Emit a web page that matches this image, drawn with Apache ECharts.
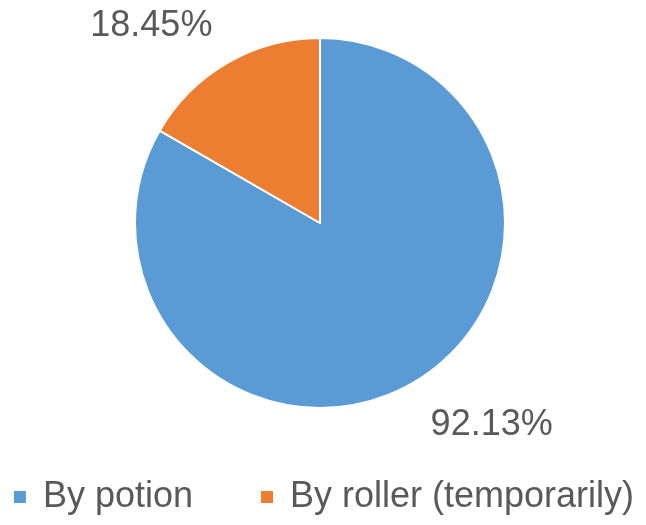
<!DOCTYPE html>
<html>
<head>
<meta charset="utf-8">
<script src="https://cdn.jsdelivr.net/npm/echarts@6/dist/echarts.min.js"></script>
<style>
html,body{margin:0;padding:0;background:#fff;}
#chart{width:646px;height:525px;}
</style>
</head>
<body>
<div id="chart"></div>
<script>
const categories = ['By potion', 'By roller (temporarily)'];
const values = [92.13, 18.45];
const colors = ['#5B9BD5', '#ED7D31'];
const lineLengths = [48, 42];

const chart = echarts.init(document.getElementById('chart'), null, {renderer: 'canvas'});
const FONT = 'Liberation Sans';
chart.setOption({
  animation: false,
  backgroundColor: '#ffffff',
  legend: {
    data: categories,
    left: 'center',
    top: 474,
    icon: 'rect',
    itemWidth: 14,
    itemHeight: 14,
    itemGap: 66,
    textStyle: {
      fontFamily: FONT,
      fontSize: 36,
      color: '#595959',
      lineHeight: 36,
      padding: [0, 0, 0, 11]
    }
  },
  series: [{
    type: 'pie',
    center: [320, 223],
    radius: 185,
    startAngle: 90,
    clockwise: true,
    avoidLabelOverlap: false,
    itemStyle: {borderColor: '#ffffff', borderWidth: 2},
    label: {
      show: true,
      position: 'outside',
      formatter: p => p.value.toFixed(2) + '%',
      fontFamily: FONT,
      fontSize: 36,
      color: '#595959',
      distanceToLabelLine: 0
    },
    labelLine: {show: false, length: 45, length2: -6},
    data: categories.map((c, i) => ({
      name: c,
      value: values[i],
      itemStyle: {color: colors[i]},
      labelLine: {length: lineLengths[i], length2: -6}
    }))
  }]
});
</script>
</body>
</html>
